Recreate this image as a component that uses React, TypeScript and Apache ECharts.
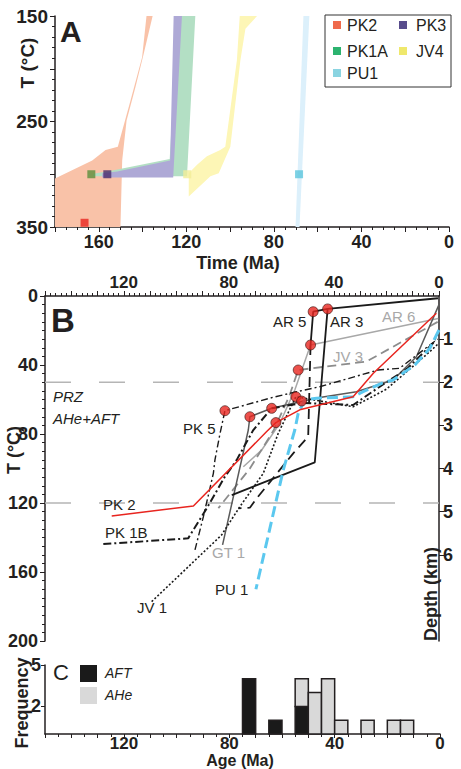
import React, { useEffect, useRef } from "react";
import * as echarts from "echarts";

const FONT = '"Liberation Sans", Arial, Helvetica, sans-serif';
const INK = "#231f20";

// ---------- Panel A : time-temperature envelopes ----------
const pk2Envelope: number[][] = [[138.2, 150], [135.4, 150], [139.5, 186], [143.2, 217], [147.3, 249], [149.3, 287], [150.1, 350], [180, 350], [180, 304], [163, 287], [156.9, 277], [151.3, 274], [145.5, 230], [140.2, 189]];
const pk1aEnvelope: number[][] = [[124, 150], [115.9, 150], [119.7, 302], [162.5, 302], [162.5, 299.5], [153.8, 296.5], [127.6, 285.5]];
const pk3Envelope: number[][] = [[125.8, 150], [122, 150], [126, 303], [158.4, 303], [158.4, 299], [151.6, 297.4], [127.4, 287]];
const jv4Envelope: number[][] = [[95.6, 150], [87.7, 150], [93, 162], [95.3, 192], [99.9, 274], [105.2, 299], [109, 302], [118.9, 321], [118.9, 299], [115.1, 291], [110.6, 283], [104.5, 277], [102.2, 274], [96.9, 192]];
const pu1Envelope: number[][] = [[66.5, 150], [63.8, 150], [68.3, 350], [70.1, 350]];

const sampleNames = ["PK2", "PK1A", "PK3", "JV4", "PU1"];
const sampleAges = [166.5, 163.4, 156.1, 119.6, 68.5];
const sampleTemps = [346, 300, 300, 300, 300];

// ---------- Panel B : cooling paths ----------
const ar3Path = [[0.4, 1.3], [42.4, 7.5], [47.3, 96.5], [78.9, 115.4]];
const ar5Upper = [[42.4, 7.5], [47.9, 9.1], [48.9, 28.4]];
const ar5Lower = [[48.9, 28.4], [49.8, 81.5], [55.5, 91.2], [69.4, 117.3], [72, 122.7], [76.4, 123.1]];
const ar6Path = [[0.3, 13], [48.9, 28.4], [54.9, 54.5], [60.6, 73.8], [67.5, 89.3], [74.5, 99]];
const jv3Path = [[0.5, 15], [27.6, 38], [53.6, 42.9], [57, 58], [63, 78], [72, 100], [84, 123]];
const pu1Path = [[0, 19.7], [3.5, 30.3], [9.2, 40], [17.5, 48.7], [21.9, 50.6], [28.9, 55.5], [32.7, 58.4], [46.6, 59.3], [51.1, 60.3], [53.6, 68], [54.9, 77.7], [59.3, 100.9], [69.7, 170]];
const pk2Path = [[1, 10], [25, 44.8], [32.7, 58.4], [53, 66], [62.1, 73.4], [65.6, 78.6], [93.5, 121.7], [124.6, 127.5]];
const pk1bPath = [[127.8, 143.8], [95.5, 140.5], [88.4, 123], [81.5, 104.7], [77, 95], [70.7, 77.7], [63.7, 65.1], [52, 62], [32.7, 63.2], [22, 52], [12, 42], [2.3, 27.4], [0.5, 22]];
const pk5Path = [[92.9, 147.2], [89.7, 127.9], [85.9, 102.8], [85.3, 95], [83.4, 80], [81.5, 66.5], [63.1, 58.7], [54.2, 55.5], [45.4, 52.6], [23.2, 42.9], [15, 41.9], [3.5, 28.4], [0.5, 25]];
const jv1Path = [[109.4, 177.2], [82.8, 138.6], [75.8, 122.1], [66.9, 102.8], [61.2, 79.6], [54.5, 58.4], [32.7, 64.2], [20, 54], [3.5, 32.3], [0.5, 28]];
const gt1Path = [[82.4, 144.3], [72.6, 77.7], [72, 70], [63.7, 65.1], [46, 59], [31.4, 55.5], [17.5, 48.7], [8.6, 35.2], [0, 5]];
const dataPoints = [[47.9, 9.1], [42.4, 7.5], [48.9, 28.4], [53.6, 42.9], [54.5, 58.4], [52.3, 60.9], [63.7, 65.1], [72, 70], [62.1, 73.4], [81.5, 66.5]];
const przTemps = [50, 120];
const depthTicks = [1, 2, 3, 4, 5, 6];

// ---------- Panel C : age histogram ----------
const binWidth = 5;
const binStarts = [75, 70, 65, 60, 55, 50, 45, 40, 35, 30, 25, 20, 15];
const aftCounts = [4, 0, 1, 0, 2, 0, 0, 0, 0, 0, 0, 0, 0];
const aheCounts = [0, 0, 0, 0, 2, 3, 4, 1, 0, 1, 0, 1, 1];
const freqTicks = [2, 5];

function polySeries(name: string, pts: number[][], color: string, z = 1) {
  return {
    type: "custom", name, xAxisIndex: 0, yAxisIndex: 0, silent: true, z,
    data: [pts[0]],
    renderItem: (_p: any, api: any) => ({
      type: "polygon",
      shape: { points: pts.map((p) => api.coord(p)) },
      style: { fill: color },
    }),
  };
}

function lineSeries(name: string, pts: number[][], color: string, width: number, type: any, z = 3) {
  return {
    type: "line", name, xAxisIndex: 1, yAxisIndex: 1, data: pts, symbol: "none", showSymbol: false,
    silent: true, z, lineStyle: { color, width, type }, clip: false,
  };
}

function txt(text: string, x: number, y: number, size: number, o: any = {}) {
  const align = o.align || "left";
  return {
    type: "text", x, y, rotation: o.rot || 0, z: 100, silent: true,
    style: {
      text, fill: o.color || INK,
      font: `${o.italic ? "italic " : ""}${o.bold ? "bold " : ""}${size}px ${FONT}`,
      align, verticalAlign: "middle", textAlign: align, textVerticalAlign: "middle",
    },
  };
}

const axisLineStyle = { show: true, onZero: false, lineStyle: { color: INK, width: 1.5 } };
const tickStyle = (len: number) => ({ show: true, length: len, lineStyle: { color: INK, width: 1 } });

export default function App() {
  const ref = useRef<HTMLDivElement>(null);
  useEffect(() => {
    if (!ref.current) return;
    const chart = echarts.init(ref.current, undefined, { renderer: "svg" });
    const boldLabel = (size: number, margin: number, formatter?: any) => ({
      show: true, color: INK, fontFamily: FONT, fontWeight: "bold", fontSize: size, margin, formatter,
    });
    const histData = binStarts.map((s, i) => [s, aftCounts[i], aheCounts[i]]);
    const option: any = {
      animation: false,
      backgroundColor: "#ffffff",
      grid: [
        { left: 55, top: 16, width: 394, height: 211 },
        { left: 45, top: 296, width: 394, height: 345 },
        { left: 45, top: 665, width: 395, height: 69 },
      ],
      xAxis: [
        {
          gridIndex: 0, type: "value", min: 0, max: 180, interval: 20, inverse: true, position: "bottom",
          axisLine: axisLineStyle, axisTick: tickStyle(5), minorTick: { show: true, splitNumber: 4, length: 3, lineStyle: { color: INK } },
          splitLine: { show: false },
          axisLabel: boldLabel(18, 6, (v: number) => (v % 40 === 0 ? String(v) : "")),
        },
        {
          gridIndex: 1, type: "value", min: 0, max: 150, interval: 10, inverse: true, position: "top",
          axisLine: axisLineStyle, axisTick: tickStyle(5), minorTick: { show: true, splitNumber: 5, length: 3, lineStyle: { color: INK } },
          splitLine: { show: false },
          axisLabel: boldLabel(17, 5, (v: number) => (v % 40 === 0 ? String(v) : "")),
        },
        {
          gridIndex: 2, type: "value", min: 0, max: 150, interval: 10, inverse: true, position: "bottom",
          axisLine: axisLineStyle, axisTick: tickStyle(4), minorTick: { show: true, splitNumber: 2, length: 3, lineStyle: { color: INK } },
          splitLine: { show: false },
          axisLabel: boldLabel(17, 1, (v: number) => (v % 40 === 0 ? String(v) : "")),
        },
      ],
      yAxis: [
        {
          gridIndex: 0, type: "value", min: 150, max: 350, interval: 50, inverse: true, position: "left",
          axisLine: axisLineStyle, axisTick: tickStyle(5), minorTick: { show: true, splitNumber: 5, length: 3, lineStyle: { color: INK } },
          splitLine: { show: false },
          axisLabel: boldLabel(19, 7, (v: number) => ((v - 150) % 100 === 0 ? String(v) : "")),
        },
        {
          gridIndex: 1, type: "value", min: 0, max: 200, interval: 40, inverse: true, position: "left",
          axisLine: axisLineStyle, axisTick: tickStyle(5), minorTick: { show: true, splitNumber: 8, length: 3, lineStyle: { color: INK } },
          splitLine: { show: false },
          axisLabel: boldLabel(18, 7),
        },
        {
          gridIndex: 1, type: "value", min: 0, max: 8, interval: 1, inverse: true, position: "right",
          axisLine: axisLineStyle,
          axisTick: { show: true, length: 5, customValues: depthTicks, lineStyle: { color: INK } },
          splitLine: { show: false },
          axisLabel: { ...boldLabel(18, 4), customValues: depthTicks },
        },
        {
          gridIndex: 2, type: "value", min: 0, max: 5, position: "left",
          axisLine: axisLineStyle,
          axisTick: { show: true, length: 4, customValues: freqTicks, lineStyle: { color: INK } },
          splitLine: { show: false },
          axisLabel: { ...boldLabel(18, 4), customValues: freqTicks },
        },
      ],
      series: [
        polySeries("PK2 envelope", pk2Envelope, "#f9c2a8", 1),
        polySeries("PK1A envelope", pk1aEnvelope, "#b3dfc4", 2),
        polySeries("PK3 envelope", pk3Envelope, "#aea9d6", 3),
        polySeries("JV4 envelope", jv4Envelope, "#fdf6b6", 2),
        polySeries("PU1 envelope", pu1Envelope, "#dcf0fb", 2),
        {
          type: "scatter", name: "samples", xAxisIndex: 0, yAxisIndex: 0, symbol: "rect", symbolSize: 8, z: 5, silent: true,
          data: sampleNames.map((n, i) => ({
            name: n, value: [sampleAges[i], sampleTemps[i]],
            itemStyle: { color: ["#e8251f", "#5a8f3c", "#4a2d6b", "#f3ee98", "#5cc6dd"][i] },
          })),
        },
        // Panel B
        ...przTemps.map((t) => ({
          type: "line", name: "PRZ " + t, xAxisIndex: 1, yAxisIndex: 1, data: [[150, t], [0, t]], symbol: "none",
          silent: true, z: 1, lineStyle: { color: "#b5b5b5", width: 1.5, type: [26, 28] },
        })),
        lineSeries("AR 6", ar6Path, "#a8a8a8", 1.5, "solid", 2),
        lineSeries("JV 3", jv3Path, "#8c8c8c", 1.8, [9, 5], 2),
        lineSeries("GT 1", gt1Path, "#5a5a5a", 1.5, "solid", 3),
        lineSeries("JV 1", jv1Path, "#1a1a1a", 1.6, [2, 2], 3),
        lineSeries("PK 5", pk5Path, "#1a1a1a", 1.4, [7, 3, 2, 3], 3),
        lineSeries("PK 1B", pk1bPath, "#1a1a1a", 2, [8, 3, 2, 3], 3),
        lineSeries("AR 3", ar3Path, "#1a1a1a", 1.8, "solid", 3),
        lineSeries("AR 5", ar5Upper, "#1a1a1a", 1.8, "solid", 3),
        lineSeries("AR 5 lower", ar5Lower, "#1a1a1a", 1.8, [10, 6], 3),
        lineSeries("PU 1", pu1Path, "#5bc8ef", 3, [11, 5], 4),
        lineSeries("PK 2", pk2Path, "#e8251f", 1.5, "solid", 4),
        {
          type: "scatter", name: "data", xAxisIndex: 1, yAxisIndex: 1, data: dataPoints, symbol: "circle", symbolSize: 10,
          silent: true, z: 6, itemStyle: { color: "#e8251f", borderColor: "#3b1512", borderWidth: 0.8 },
        },
        // Panel C
        {
          type: "custom", name: "histogram", xAxisIndex: 2, yAxisIndex: 3, data: histData, silent: true, z: 3,
          renderItem: (_p: any, api: any) => {
            const start = api.value(0), aft = api.value(1), ahe = api.value(2);
            const mk = (y0: number, y1: number, fill: string) => {
              const a = api.coord([start, y1]);
              const b = api.coord([start - binWidth, y0]);
              return { type: "rect", shape: { x: a[0], y: a[1], width: b[0] - a[0], height: b[1] - a[1] }, style: { fill, stroke: INK, lineWidth: 1.5 } };
            };
            const children: any[] = [];
            if (aft > 0) children.push(mk(0, aft, "#1a1a1a"));
            if (ahe > 0) children.push(mk(aft, aft + ahe, "#d9d9d9"));
            return { type: "group", children };
          },
        },
      ],
      graphic: [
        // Panel A
        txt("A", 60, 31, 30, { bold: true }),
        txt("T (°C)", 27, 63, 19, { bold: true, rot: Math.PI / 2, align: "center" }),
        txt("Time (Ma)", 238, 263, 18, { bold: true, align: "center" }),
        { type: "rect", z: 90, silent: true, shape: { x: 325, y: 15, width: 126, height: 72 }, style: { fill: "#ffffff", stroke: "#333333", lineWidth: 1 } },
        { type: "rect", z: 95, silent: true, shape: { x: 333, y: 21, width: 8, height: 8 }, style: { fill: "#ef6a4c" } },
        { type: "rect", z: 95, silent: true, shape: { x: 399, y: 21, width: 8, height: 8 }, style: { fill: "#584c8c" } },
        { type: "rect", z: 95, silent: true, shape: { x: 333, y: 47, width: 8, height: 8 }, style: { fill: "#2cb36f" } },
        { type: "rect", z: 95, silent: true, shape: { x: 399, y: 47, width: 8, height: 8 }, style: { fill: "#efe86c" } },
        { type: "rect", z: 95, silent: true, shape: { x: 333, y: 69, width: 8, height: 8 }, style: { fill: "#8ad4e1" } },
        txt("PK2", 347, 25, 16),
        txt("PK3", 416, 25, 16),
        txt("PK1A", 347, 51, 16),
        txt("JV4", 416, 51, 16),
        txt("PU1", 347, 73, 16),
        // Panel B
        txt("B", 51, 320, 33, { bold: true }),
        txt("PRZ", 53, 396, 15, { italic: true }),
        txt("AHe+AFT", 53, 418, 15, { italic: true }),
        txt("PK 5", 183, 428, 15),
        txt("AR 5", 273, 321, 15),
        txt("AR 3", 330, 321, 15),
        txt("AR 6", 382, 316, 15, { color: "#a8a8a8" }),
        txt("JV 3", 333, 356, 15, { color: "#a8a8a8" }),
        txt("PK 2", 103, 504, 15),
        txt("PK 1B", 105, 532, 15),
        txt("JV 1", 137, 607, 15),
        txt("GT 1", 212, 552, 15, { color: "#a8a8a8" }),
        txt("PU 1", 215, 589, 15),
        txt("T (°C)", 14, 450, 18, { bold: true, rot: Math.PI / 2, align: "center" }),
        txt("Depth (km)", 431, 594, 18, { bold: true, rot: Math.PI / 2, align: "center" }),
        // Panel C
        txt("C", 53, 672, 22),
        { type: "rect", z: 95, silent: true, shape: { x: 80, y: 665, width: 17, height: 17 }, style: { fill: "#1a1a1a" } },
        { type: "rect", z: 95, silent: true, shape: { x: 80, y: 687, width: 17, height: 17 }, style: { fill: "#d9d9d9" } },
        txt("AFT", 105, 673, 14, { italic: true }),
        txt("AHe", 105, 695, 14, { italic: true }),
        txt("Frequency", 22, 703, 18, { bold: true, rot: Math.PI / 2, align: "center" }),
        txt("Age (Ma)", 240, 760, 16, { bold: true, align: "center" }),
      ],
    };
    chart.setOption(option);
    return () => chart.dispose();
  }, []);
  return <div ref={ref} style={{ position: "fixed", left: 0, top: 0, width: 461, height: 769, background: "#fff" }} />;
}
